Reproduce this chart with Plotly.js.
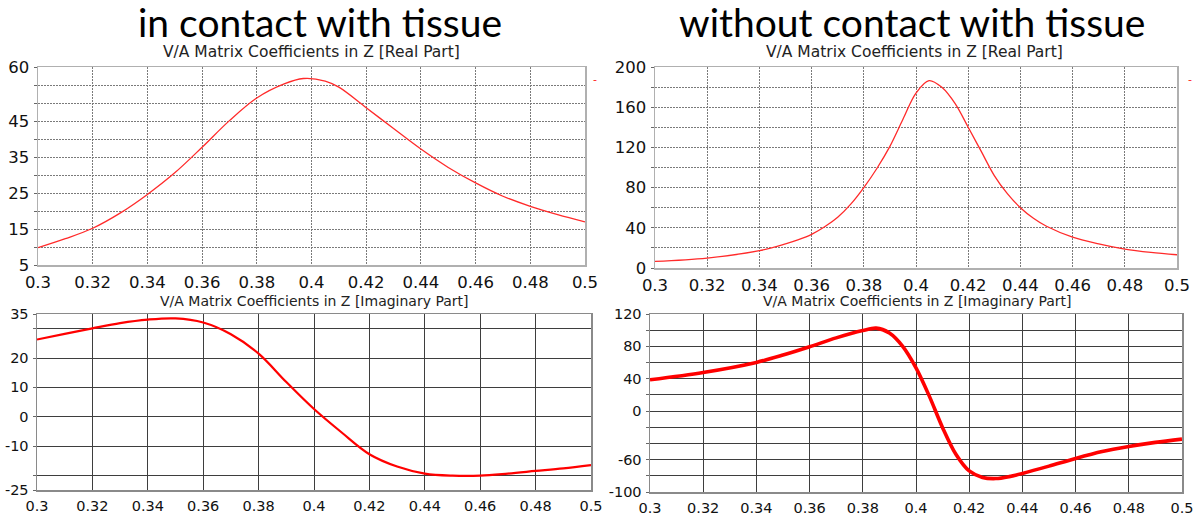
<!DOCTYPE html>
<html>
<head>
<meta charset="utf-8">
<script src="https://cdn.plot.ly/plotly-3.0.1.min.js"></script>
<style>html,body{margin:0;padding:0;background:#fff;}#chart{width:1202px;height:520px;}</style>
</head>
<body>
<div id="chart"></div>
<script>
// ---------- data ----------
const xTicks = [0.3,0.32,0.34,0.36,0.38,0.4,0.42,0.44,0.46,0.48,0.5];
const xTickText = ["0.3","0.32","0.34","0.36","0.38","0.4","0.42","0.44","0.46","0.48","0.5"];

// in contact with tissue - real part
const contactRealX = [0.30,0.31,0.32,0.33,0.34,0.35,0.36,0.37,0.38,0.39,0.397,0.405,0.41,0.42,0.43,0.44,0.45,0.46,0.47,0.48,0.49,0.50];
const contactRealY = [9.8,12.3,15.2,19.4,24.6,30.6,37.7,45.1,51.4,55.3,56.8,56.1,54.4,48.7,42.9,37.2,32.1,27.8,24.1,21.3,19.0,17.0];
const contactRealTickVals = [5,10,15,20,25,30,35,40,45,50,55,60];
const contactRealTickText = ["5","","15","","25","","35","","45","","","60"];

// without contact - real part
const freeRealX = [0.30,0.32,0.34,0.35,0.355,0.36,0.365,0.37,0.375,0.38,0.385,0.39,0.395,0.40,0.405,0.41,0.415,0.42,0.425,0.43,0.435,0.44,0.445,0.45,0.46,0.47,0.48,0.49,0.50];
const freeRealY = [6.6,9.9,17.2,24,28.2,33.5,41,50.5,63.5,80,99,121,148,174,186.5,179.5,163.5,140,116,92,74,60,49.5,41.5,30.7,24,18.8,15.5,13.2];
const freeRealTickVals = [0,20,40,60,80,100,120,140,160,180,200];
const freeRealTickText = ["0","","40","","80","","120","","160","","200"];

// in contact - imaginary part
const contactImagX = [0.30,0.31,0.32,0.33,0.34,0.35,0.36,0.37,0.38,0.39,0.40,0.41,0.42,0.43,0.44,0.45,0.46,0.47,0.48,0.49,0.50];
const contactImagY = [26.3,28.2,30.1,31.9,33.1,33.5,32.1,28.1,21.5,11.8,2.6,-5.4,-12.8,-17.0,-19.4,-20.1,-20.1,-19.4,-18.5,-17.6,-16.5];
const contactImagTickVals = [-25,-20,-10,0,10,20,30,35];
const contactImagTickText = ["-25","","-10","0","10","20","","35"];

// without contact - imaginary part
const freeImagX = [0.30,0.32,0.34,0.35,0.36,0.37,0.38,0.385,0.39,0.395,0.40,0.405,0.41,0.415,0.42,0.425,0.43,0.435,0.44,0.45,0.46,0.47,0.48,0.49,0.50];
const freeImagY = [38.7,47.8,60.2,69.2,79.5,90.5,99.5,102.5,96.5,80,53.4,18.5,-20.5,-53.4,-74,-82,-83.4,-81,-77,-68,-58.5,-50,-43.8,-38.7,-34.6];
const freeImagTickVals = [-100,-80,-60,-40,-20,0,20,40,60,80,100,120];
const freeImagTickText = ["-100","","-60","","","0","","40","","80","","120"];

const bigTitles = ["in contact with tissue","without contact with tissue"];
const subTitles = ["V/A Matrix Coefficients in Z [Real Part]","V/A Matrix Coefficients in Z [Imaginary Part]"];

// ---------- layout ----------
const W = 1202, H = 520;
const px = v => v / W;
const py = v => 1 - v / H;
const tickFont = '"DejaVu Sans",sans-serif';

function xa(domain, size, lc) {
  return {domain: domain, range: [0.3, 0.5], tickvals: xTicks, ticktext: xTickText,
    showline: true, mirror: true, linecolor: lc, linewidth: 1.5, zeroline: false,
    ticks: '', ticklabelstandoff: 2, tickfont: {family: tickFont, size: size, color: '#111'}, fixedrange: true};
}
function ya(domain, range, tv, tt, size, lc) {
  return {domain: domain, range: range, tickvals: tv, ticktext: tt,
    showline: true, mirror: true, linecolor: lc, linewidth: 1.5, zeroline: false,
    ticks: 'outside', ticklen: 3, tickcolor: '#666', ticklabelstandoff: 1,
    tickfont: {family: tickFont, size: size, color: '#111'}, fixedrange: true};
}

const dotGrid = {showgrid: true, gridcolor: '#7a7a7a', griddash: '1.5px,1.5px', gridwidth: 1};
const solidGrid = {showgrid: true, gridcolor: '#3e3e3e', griddash: 'solid', gridwidth: 1};

const layout = {
  width: W, height: H, margin: {l: 0, r: 0, t: 0, b: 0},
  paper_bgcolor: '#fff', plot_bgcolor: '#fff', showlegend: false,
  xaxis:  Object.assign(xa([px(38), px(585)], 16.5, '#b0b0b0'), dotGrid, {anchor: 'y'}),
  yaxis:  Object.assign(ya([py(265), py(67)], [5, 60], contactRealTickVals, contactRealTickText, 16.5, '#b0b0b0'), dotGrid, {anchor: 'x'}),
  xaxis2: Object.assign(xa([px(655), px(1177)], 16.5, '#b0b0b0'), dotGrid, {anchor: 'y2'}),
  yaxis2: Object.assign(ya([py(268), py(67)], [0, 200], freeRealTickVals, freeRealTickText, 16.5, '#b0b0b0'), dotGrid, {anchor: 'x2'}),
  xaxis3: Object.assign(xa([px(37), px(591)], 14.5, '#8a8a8a'), solidGrid, {anchor: 'y3'}),
  yaxis3: Object.assign(ya([py(490), py(314)], [-25, 35], contactImagTickVals, contactImagTickText, 14.5, '#8a8a8a'), solidGrid, {anchor: 'x3'}),
  xaxis4: Object.assign(xa([px(650), px(1182)], 14.5, '#8a8a8a'), solidGrid, {anchor: 'y4'}),
  yaxis4: Object.assign(ya([py(492), py(314)], [-100, 120], freeImagTickVals, freeImagTickText, 14.5, '#8a8a8a'), solidGrid, {anchor: 'x4'}),
  annotations: [
    {text: bigTitles[0], x: px(320), y: py(22), xref: 'paper', yref: 'paper', showarrow: false, xanchor: 'center', yanchor: 'middle', font: {family: 'Lato, sans-serif', size: 39, color: '#000'}},
    {text: bigTitles[1], x: px(912), y: py(22), xref: 'paper', yref: 'paper', showarrow: false, xanchor: 'center', yanchor: 'middle', font: {family: 'Lato, sans-serif', size: 39, color: '#000'}},
    {text: subTitles[0], x: px(311), y: py(52), xref: 'paper', yref: 'paper', showarrow: false, xanchor: 'center', yanchor: 'middle', font: {family: tickFont, size: 15.5, color: '#222'}},
    {text: subTitles[0], x: px(914), y: py(52), xref: 'paper', yref: 'paper', showarrow: false, xanchor: 'center', yanchor: 'middle', font: {family: tickFont, size: 15.5, color: '#222'}},
    {text: subTitles[1], x: px(314), y: py(301), xref: 'paper', yref: 'paper', showarrow: false, xanchor: 'center', yanchor: 'middle', font: {family: tickFont, size: 14, color: '#222'}},
    {text: subTitles[1], x: px(917), y: py(301), xref: 'paper', yref: 'paper', showarrow: false, xanchor: 'center', yanchor: 'middle', font: {family: tickFont, size: 14, color: '#222'}},
    {text: '-', x: px(595), y: py(79), xref: 'paper', yref: 'paper', showarrow: false, xanchor: 'center', yanchor: 'middle', font: {family: tickFont, size: 11, color: '#ff2020'}},
    {text: '-', x: px(1190), y: py(79), xref: 'paper', yref: 'paper', showarrow: false, xanchor: 'center', yanchor: 'middle', font: {family: tickFont, size: 11, color: '#ff2020'}}
  ]
};

const traces = [
  {x: contactRealX, y: contactRealY, xaxis: 'x', yaxis: 'y', type: 'scatter', mode: 'lines', line: {color: '#ff2a2a', width: 1.3, shape: 'spline', smoothing: 1}},
  {x: freeRealX, y: freeRealY, xaxis: 'x2', yaxis: 'y2', type: 'scatter', mode: 'lines', line: {color: '#ff2a2a', width: 1.3, shape: 'spline', smoothing: 1}},
  {x: contactImagX, y: contactImagY, xaxis: 'x3', yaxis: 'y3', type: 'scatter', mode: 'lines', line: {color: '#ff0000', width: 2.2, shape: 'spline', smoothing: 1}},
  {x: freeImagX, y: freeImagY, xaxis: 'x4', yaxis: 'y4', type: 'scatter', mode: 'lines', line: {color: '#ff0000', width: 3.6, shape: 'spline', smoothing: 0.9}}
];

Plotly.newPlot('chart', traces, layout, {staticPlot: true, displayModeBar: false});
</script>
</body>
</html>
